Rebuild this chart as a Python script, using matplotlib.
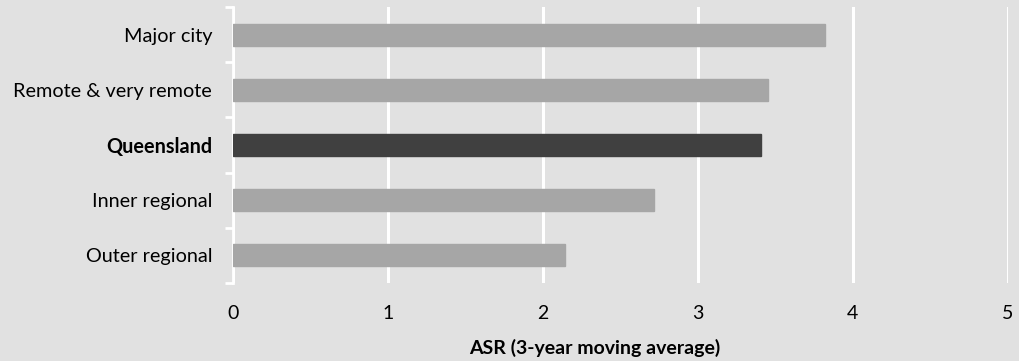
import matplotlib
matplotlib.use("Agg")
import matplotlib.pyplot as plt
import numpy as np

# ASR by remoteness area, top to bottom
regions = ["Major city", "Remote & very remote", "Queensland", "Inner regional", "Outer regional"]
asr = [3.82, 3.45, 3.41, 2.72, 2.14]
highlight = "Queensland"

bg = "#e1e1e1"
plt.rcParams["font.family"] = ["Lato", "DejaVu Sans"]

fig = plt.figure(figsize=(10.2, 3.61), dpi=100, facecolor=bg)
ax = fig.add_axes([0.2284, 0.216, 0.7596, 0.7646], facecolor=bg)

ypos = np.arange(len(regions))[::-1]
colors = ["#404040" if r == highlight else "#a6a6a6" for r in regions]
ax.barh(ypos, asr, height=0.4, color=colors, edgecolor=colors, zorder=3)

ax.set_xlim(0, 5)
ax.set_ylim(-0.5, len(regions) - 0.5)
ax.set_xticks(range(6))
ax.grid(axis="x", color="white", linewidth=2.2, zorder=1)
ax.tick_params(axis="x", length=0, pad=16, labelsize=14)

# category labels, ticks between categories
ax.set_yticks(ypos)
ax.set_yticklabels(regions)
ax.tick_params(axis="y", which="major", length=0, pad=15, labelsize=14.3)
ax.set_yticks(np.arange(-0.5, len(regions)), minor=True)
ax.tick_params(axis="y", which="minor", length=6, width=2, color="white")
for lbl in ax.get_yticklabels():
    if lbl.get_text() == highlight:
        lbl.set_fontweight("bold")

for side in ["top", "right", "bottom"]:
    ax.spines[side].set_visible(False)
ax.spines["left"].set_color("white")
ax.spines["left"].set_linewidth(2)

ax.set_xlabel("ASR (3-year moving average)", fontsize=14, fontweight="bold")
ax.xaxis.set_label_coords(0.467, -0.236)
ax.xaxis.label.set_verticalalignment("center")

fig.savefig("out.png", dpi=100, facecolor=bg)
